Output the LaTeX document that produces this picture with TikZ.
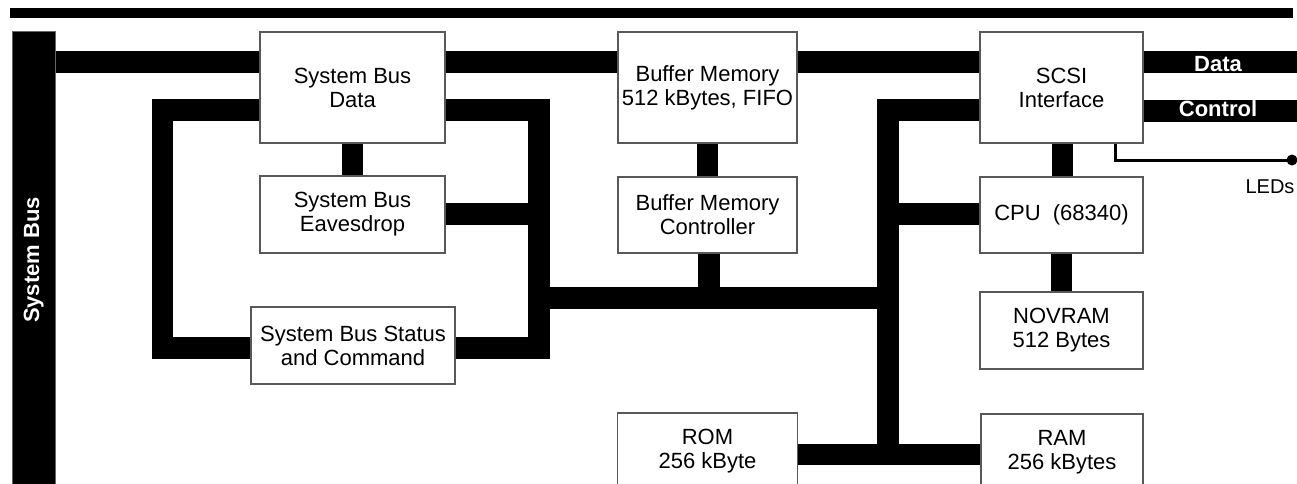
\documentclass[tikz,border=0pt]{standalone}
\usepackage{fontspec}
\setmainfont{Liberation Sans}
\usetikzlibrary{backgrounds}
\begin{document}
\begin{tikzpicture}[x=1pt,y=-1pt,
  box/.style={draw=black!65, line width=1.2pt, fill=white, inner sep=0pt, align=center,
              font=\fontsize{22}{24}\selectfont},
  bus/.style={line width=21.5pt, line join=miter, draw=black},
  buslabel/.style={text=white, font=\fontsize{22}{24}\selectfont\bfseries, inner sep=0pt},
  ledline/.style={line width=3pt, line join=miter, draw=black},
]
\useasboundingbox (0,0) rectangle (1297,484);
\clip (0,0) rectangle (1297,484);

% top rule
\fill (10,8) rectangle (1293,18);

% system bus bar
\node[draw=black!60, line width=1pt, fill=black, minimum width=43pt, minimum height=460pt, inner sep=0pt] (sysbus) at (33.5,262) {};
\node[buslabel, rotate=90, anchor=base] (sysbuslabel) at (39,260) {System Bus};

% boxes
\node[box, minimum width=185pt, minimum height=111pt] (sbd)  at (352.5,87.5) {System Bus\\Data};
\node[box, minimum width=185pt, minimum height=77pt]  (sbe)  at (352.5,214.5) {System Bus\\Eavesdrop};
\node[box, minimum width=204pt, minimum height=77pt]  (sbsc) at (353,345.5) {System Bus Status\\and Command};
\node[box, minimum width=179pt, minimum height=111pt] (bm)   at (707.5,87.5) {Buffer Memory\\512 kBytes, FIFO};
\node[box, minimum width=179pt, minimum height=76pt]  (bmc)  at (707.5,215) {Buffer Memory\\Controller};
\node[box, minimum width=163pt, minimum height=111pt] (scsi) at (1061.5,87.5) {SCSI\\Interface};
\node[box, minimum width=163pt, minimum height=76pt]  (cpu)  at (1061.5,215) {CPU\ \ (68340)};
\node[box, minimum width=163pt, minimum height=77pt]  (nov)  at (1061.5,330.5) {NOVRAM\\512 Bytes};
\node[box, minimum width=180pt, minimum height=77pt]  (rom)  at (707.5,451.5) {ROM\\256 kByte};
\node[box, minimum width=162pt, minimum height=77pt]  (ram)  at (1062,452.5) {RAM\\256 kBytes};

% helper coordinates
\coordinate (r62)  at (0,62);
\coordinate (r110) at (0,110);
\coordinate (r111) at (0,111);
\coordinate (r214) at (0,214);
\coordinate (r298) at (0,298);
\coordinate (r454) at (0,454.5);
\coordinate (cL) at (162.5,348);
\coordinate (cR) at (539,348);
\coordinate (vR) at (888,454.5);
\coordinate (dataend) at (1297,62);
\coordinate (ctrlend) at (1297,111);
\coordinate (ledcorner) at (1115,160);
\coordinate (led) at (1292,160);

\begin{scope}[on background layer]
\draw[bus] (sysbus.east |- r62) -- (sbd.west |- r62);
\draw[bus] (sbd.east |- r62) -- (bm.west |- r62);
\draw[bus] (bm.east |- r62) -- (scsi.west |- r62);
\draw[bus] (scsi.east |- r62) -- (dataend);
\draw[bus] (scsi.east |- r111) -- (ctrlend);
\draw[bus] (sbd.south) -- (sbe.north);
\draw[bus] (bm.south) -- (bmc.north);
\draw[bus] ([xshift=1pt]scsi.south) -- ([xshift=1pt]cpu.north);
\draw[bus] (cpu.south) -- (nov.north);
\draw[bus] (sbd.west |- r110) -| (cL) -- (sbsc.west |- cL);
\draw[bus] (sbd.east |- r110) -| (cR) -- (sbsc.east |- cR);
\draw[bus] (sbe.east |- r214) -- (cR |- r214);
\draw[bus] (cR |- r298) -- (vR |- r298);
\draw[bus] ([xshift=1.5pt]bmc.south) -- ([xshift=1.5pt]bmc.south |- r298);
\draw[bus] (scsi.west |- r110) -| (vR);
\draw[bus] (cpu.west |- r214) -- (vR |- r214);
\draw[bus] (rom.east |- r454) -- (ram.west |- r454);
\end{scope}

% bus labels
\node[buslabel, anchor=base] (datalabel) at (1218,72) {Data};
\node[buslabel, anchor=base] (ctrllabel) at (1218,117) {Control};

% LED line
\draw[ledline] (scsi.south -| ledcorner) |- (led);
\fill (led) circle[radius=5.5pt];
\node[font=\fontsize{20}{24}\selectfont, inner sep=0pt] (ledlabel) at (1270,187) {LEDs};
\end{tikzpicture}
\end{document}
